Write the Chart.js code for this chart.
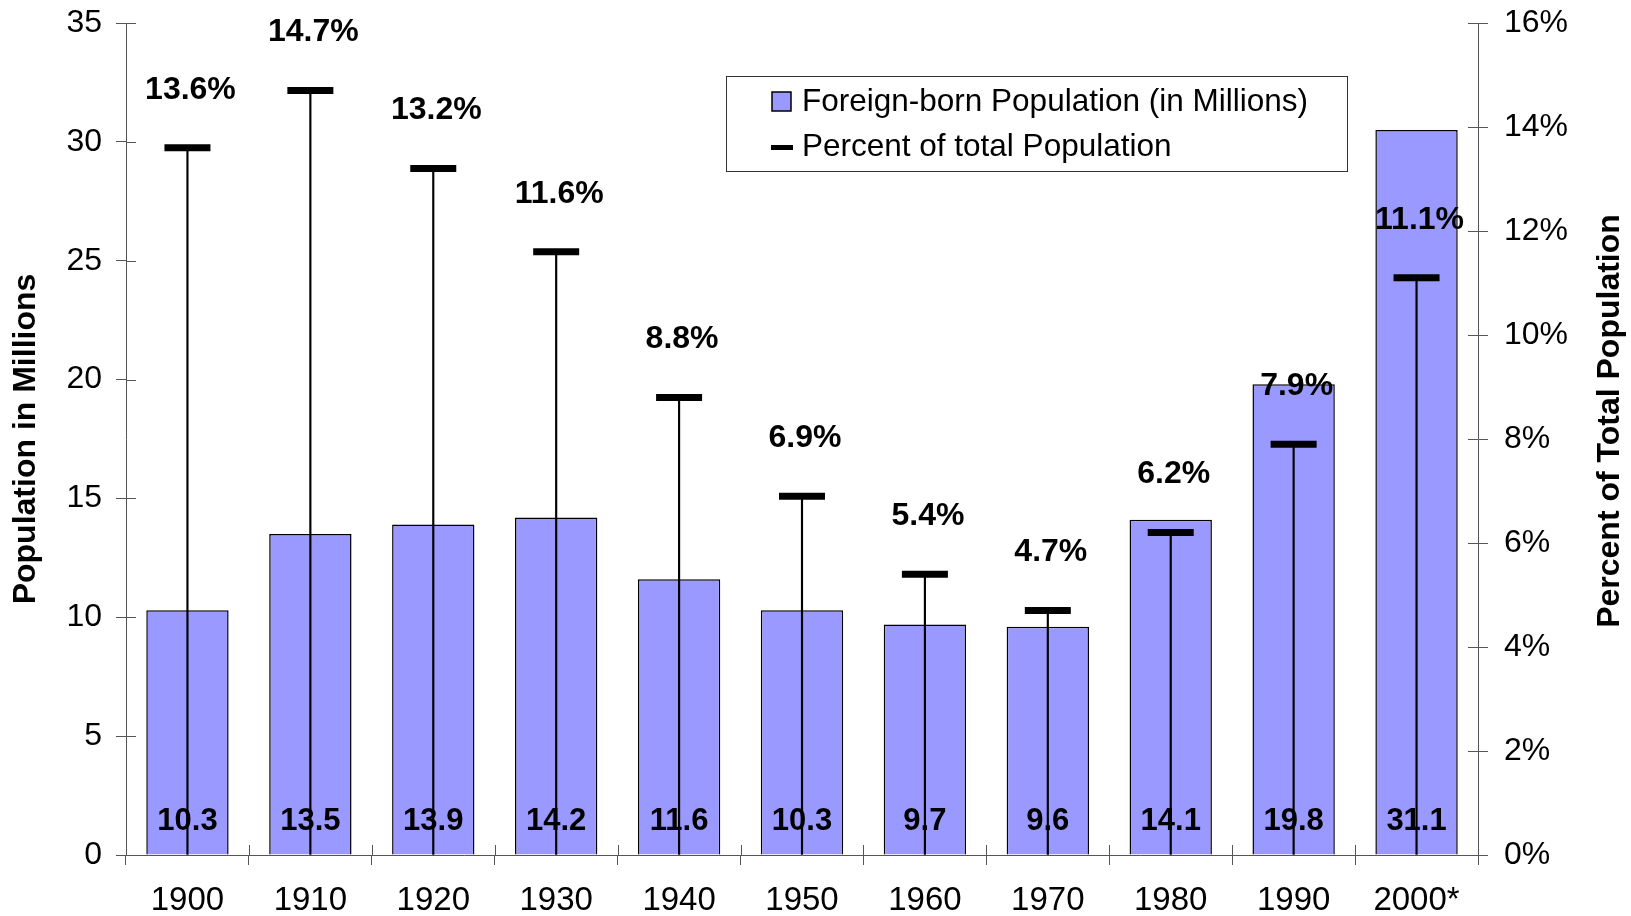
<!DOCTYPE html>
<html>
<head>
<meta charset="utf-8">
<script src="https://cdn.jsdelivr.net/npm/chart.js@4.4.0/dist/chart.umd.min.js"></script>
<style>
  html, body { margin: 0; padding: 0; background: #fff; }
  #wrap { width: 1631px; height: 916px; position: relative; }
</style>
</head>
<body>
<div id="wrap"><canvas id="chartImmigration"></canvas></div>
<script>
const years = ['1900', '1910', '1920', '1930', '1940', '1950', '1960', '1970', '1980', '1990', '2000*'];
const population = [10.3, 13.5, 13.9, 14.2, 11.6, 10.3, 9.7, 9.6, 14.1, 19.8, 30.5];
const populationLabels = ['10.3', '13.5', '13.9', '14.2', '11.6', '10.3', '9.7', '9.6', '14.1', '19.8', '31.1'];
const percentOfTotal = [13.6, 14.7, 13.2, 11.6, 8.8, 6.9, 5.4, 4.7, 6.2, 7.9, 11.1];
const legendNames = ['Foreign-born Population (in Millions)', 'Percent of total Population'];
const rightTitle = 'Percent of Total Population';

const FONT = "'Liberation Sans', Arial, sans-serif";
const BAR_COLOR = '#9999FF';
const AXIS_COLOR = '#555555';

// value labels, percent labels, legend box, right title and the inner half of the tick marks
const decorations = {
  id: 'decorations',
  beforeDatasetsDraw: function (chart) {
    let ctx = chart.ctx;
    let area = chart.chartArea;
    ctx.save();
    ctx.strokeStyle = AXIS_COLOR;
    ctx.lineWidth = 1;
    ctx.beginPath();
    chart.scales.y.ticks.forEach((t, i) => {
      let y = Math.round(chart.scales.y.getPixelForTick(i)) + 0.5;
      ctx.moveTo(area.left, y); ctx.lineTo(area.left + 10, y);
    });
    chart.scales.y1.ticks.forEach((t, i) => {
      let y = Math.round(chart.scales.y1.getPixelForTick(i)) + 0.5;
      ctx.moveTo(area.right - 10, y); ctx.lineTo(area.right, y);
    });
    let x = chart.scales.x;
    for (let i = 0; i <= years.length; i++) {
      let px = Math.round(x.left + (x.width / years.length) * i) + 0.5;
      ctx.moveTo(px, area.bottom - 10); ctx.lineTo(px, area.bottom);
    }
    ctx.stroke();
    ctx.restore();
  },
  afterDatasetsDraw: function (chart) {
    let ctx = chart.ctx;
    let area = chart.chartArea;
    let bars = chart.getDatasetMeta(0).data;
    let marks = chart.getDatasetMeta(2).data;
    ctx.save();
    ctx.fillStyle = '#000';
    ctx.textAlign = 'center';
    ctx.textBaseline = 'middle';
    ctx.font = 'bold 31px ' + FONT;
    bars.forEach((bar, i) => {
      ctx.fillText(populationLabels[i], bar.x, area.bottom - 34);
    });
    ctx.font = 'bold 32px ' + FONT;
    marks.forEach((pt, i) => {
      ctx.fillText(percentOfTotal[i].toFixed(1) + '%', pt.x + 3, pt.y - 58);
    });

    // legend
    let lx = 726, ly = 76, lw = 621, lh = 95;
    ctx.fillStyle = '#fff';
    ctx.fillRect(lx, ly, lw, lh);
    ctx.strokeStyle = '#333';
    ctx.lineWidth = 1;
    ctx.strokeRect(lx + 0.5, ly + 0.5, lw, lh);

    ctx.fillStyle = BAR_COLOR;
    ctx.fillRect(772, 92, 19, 19);
    ctx.strokeStyle = '#000';
    ctx.lineWidth = 1.5;
    ctx.strokeRect(772, 92, 19, 19);
    ctx.fillStyle = '#000';
    ctx.fillRect(771, 145, 22, 5);

    ctx.textAlign = 'left';
    ctx.font = '31.5px ' + FONT;
    ctx.fillText(legendNames[0], 802, 102);
    ctx.fillText(legendNames[1], 802, 147);

    // right axis title, reading bottom to top
    ctx.translate(1610, (area.top + area.bottom) / 2 - 18);
    ctx.rotate(-Math.PI / 2);
    ctx.textAlign = 'center';
    ctx.font = 'bold 32px ' + FONT;
    ctx.fillText(rightTitle, 0, 0);
    ctx.restore();
  }
};

new Chart(document.getElementById('chartImmigration').getContext('2d'), {
  data: {
    labels: years,
    datasets: [
      {
        type: 'bar',
        label: legendNames[0],
        data: population,
        yAxisID: 'y',
        backgroundColor: BAR_COLOR,
        borderColor: '#000',
        borderWidth: 1.5,
        barPercentage: 0.67,
        categoryPercentage: 1,
        grouped: false,
        order: 3
      },
      {
        type: 'bar',
        label: 'stem',
        data: percentOfTotal.map(p => [0, p]),
        yAxisID: 'y1',
        backgroundColor: '#000',
        borderWidth: 0,
        barThickness: 1.5,
        grouped: false,
        order: 2
      },
      {
        type: 'line',
        label: legendNames[1],
        data: percentOfTotal,
        yAxisID: 'y1',
        showLine: false,
        pointStyle: 'line',
        pointRadius: 23,
        pointHoverRadius: 23,
        pointBorderWidth: 7,
        borderColor: '#000',
        backgroundColor: '#000',
        order: 1
      }
    ]
  },
  options: {
    responsive: true,
    maintainAspectRatio: false,
    animation: false,
    layout: { autoPadding: false, padding: { left: 4, right: 0, top: 23, bottom: 0 } },
    plugins: {
      legend: { display: false },
      tooltip: { enabled: false },
      title: { display: false }
    },
    scales: {
      x: {
        grid: { drawOnChartArea: false, tickLength: 10, color: AXIS_COLOR, offset: true },
        border: { color: AXIS_COLOR },
        ticks: { color: '#000', font: { family: FONT, size: 33 }, padding: 16 },
        afterFit: function (scale) { scale.height = 61; }
      },
      y: {
        position: 'left',
        min: 0,
        max: 35,
        ticks: { stepSize: 5, color: '#000', font: { family: FONT, size: 32, lineHeight: 0.1 }, padding: 14 },
        grid: { drawOnChartArea: false, tickLength: 10, color: AXIS_COLOR },
        border: { color: AXIS_COLOR },
        title: {
          display: true,
          text: 'Population in Millions',
          color: '#000',
          font: { family: FONT, size: 32, weight: 'bold' },
          padding: { top: 3, bottom: 0 }
        },
        afterFit: function (scale) { scale.width = 122; }
      },
      y1: {
        position: 'right',
        min: 0,
        max: 16,
        ticks: {
          stepSize: 2,
          color: '#000',
          font: { family: FONT, size: 32, lineHeight: 0.1 },
          padding: 16,
          callback: v => v + '%'
        },
        grid: { drawOnChartArea: false, tickLength: 10, color: AXIS_COLOR },
        border: { color: AXIS_COLOR },
        afterFit: function (scale) { scale.width = 153; }
      }
    }
  },
  plugins: [decorations]
});
</script>
</body>
</html>
